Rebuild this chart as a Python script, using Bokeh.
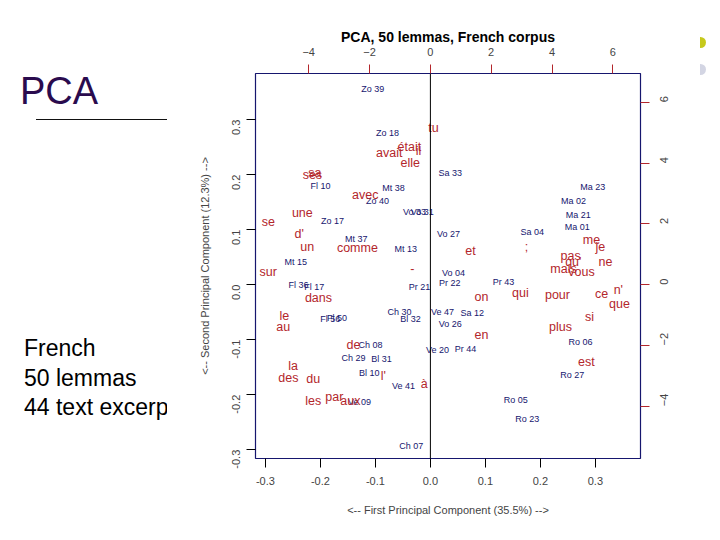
import math
from bokeh.plotting import figure
from bokeh.layouts import row
from bokeh.models import (Range1d, LinearAxis, FixedTicker, PrintfTickFormatter,
                          Span, ColumnDataSource, Div)
from bokeh.core.properties import value
from bokeh.embed import file_html
from bokeh.resources import INLINE

# ---- data: text excerpts (first/second principal component scores) ----
excerpts = ["Zo 39", "Zo 18", "Sa 33", "Fl 10", "Mt 38", "Zo 40", "Vo 33", "Vo 31",
            "Zo 17", "Vo 27", "Ma 23", "Ma 02", "Ma 21", "Ma 01", "Sa 04", "Mt 37",
            "Mt 13", "Mt 15", "Vo 04", "Pr 22", "Pr 21", "Pr 43", "Fl 36", "Fl 17",
            "Ch 30", "Bl 32", "Ve 47", "Sa 12", "Fl 56", "Fl 50", "Vo 26", "Ch 08",
            "Ch 29", "Bl 31", "Ve 20", "Pr 44", "Bl 10", "Ve 41", "Ve 09", "Ch 07",
            "Ro 06", "Ro 27", "Ro 05", "Ro 23"]
pc1 = [-0.105, -0.078, 0.036, -0.200, -0.067, -0.096, -0.029, -0.015,
       -0.178, 0.033, 0.295, 0.260, 0.269, 0.267, 0.185, -0.135,
       -0.045, -0.245, 0.042, 0.035, -0.020, 0.133, -0.240, -0.211,
       -0.056, -0.036, 0.022, 0.076, -0.182, -0.170, 0.036, -0.109,
       -0.140, -0.089, 0.013, 0.064, -0.111, -0.049, -0.129, -0.035,
       0.273, 0.258, 0.155, 0.176]
pc2 = [0.355, 0.275, 0.204, 0.180, 0.176, 0.153, 0.133, 0.133,
       0.115, 0.093, 0.178, 0.153, 0.127, 0.105, 0.095, 0.084,
       0.065, 0.042, 0.022, 0.004, -0.004, 0.005, 0.000, -0.005,
       -0.049, -0.062, -0.049, -0.051, -0.062, -0.060, -0.071, -0.109,
       -0.133, -0.135, -0.118, -0.116, -0.160, -0.185, -0.213, -0.293,
       -0.105, -0.164, -0.209, -0.245]

# ---- data: lemmas (loadings, on the top/right scales) ----
words = ["tu", "était", "avait", "il", "elle", "ses", "sa", "avec", "une", "se",
         "d'", "un", "comme", "sur", "-", "dans", "le", "au", "et", ";",
         "me", "je", "pas", "qu'", "ne", "mais", "vous", "on", "qui", "pour",
         "ce", "n'", "que", "si", "plus", "en", "est", "de", "la", "des",
         "du", "l'", "à", "les", "par", "aux"]
load1 = [0.10, -0.69, -1.35, -0.39, -0.66, -3.88, -3.80, -2.14, -4.21, -5.33,
         -4.31, -4.05, -2.40, -5.33, -0.59, -3.68, -4.80, -4.84, 1.32, 3.16,
         5.30, 5.59, 4.61, 4.70, 5.76, 4.38, 4.97, 1.68, 2.96, 4.18,
         5.63, 6.18, 6.22, 5.23, 4.28, 1.68, 5.13, -2.53, -4.51, -4.67,
         -3.85, -1.55, -0.20, -3.85, -3.16, -2.63]
load2 = [5.16, 4.54, 4.34, 4.41, 4.01, 3.62, 3.66, 2.96, 2.37, 2.07,
         1.68, 1.25, 1.22, 0.43, 0.53, -0.43, -1.02, -1.38, 1.12, 1.25,
         1.48, 1.25, 0.95, 0.76, 0.76, 0.53, 0.43, -0.39, -0.26, -0.33,
         -0.30, -0.16, -0.63, -1.05, -1.38, -1.64, -2.53, -1.97, -2.66, -3.06,
         -3.09, -2.99, -3.26, -3.82, -3.68, -3.82]

pc_ticks = [-0.3, -0.2, -0.1, 0.0, 0.1, 0.2, 0.3]
score_ticks = [-4, -2, 0, 2, 4, 6]

slide_title = "PCA"
slide_lines = ["French", "50 lemmas", "44 text excerpts"]

NAVY = "#16166e"
RED = "#b3262b"
FONT = "Liberation Sans"
H = 532

# ---- left part of the slide (the chart picture hides the end of the last line) ----
line_tops = [337, 367, 396]
html = ['<div style="position:relative;width:167px;height:%dpx;overflow:hidden;'
        'font-family:\'Liberation Sans\',Arial,sans-serif;">' % H]
html.append('<div style="position:absolute;left:20px;top:72px;font-size:38px;'
            'line-height:38px;color:#2a0b4e;white-space:nowrap;">%s</div>' % slide_title)
html.append('<div style="position:absolute;left:36px;top:119px;width:140px;'
            'height:1px;background:#111;"></div>')
for t, top_px in zip(slide_lines, line_tops):
    html.append('<div style="position:absolute;left:24px;top:%dpx;font-size:23px;'
                'line-height:23px;color:#000;white-space:nowrap;">%s</div>' % (top_px, t))
html.append('</div>')
left_div = Div(text="".join(html), width=167, height=H, margin=0)

# ---- right edge of the slide (bullets) ----
rhtml = ('<div style="position:relative;width:15px;height:%dpx;overflow:hidden;">'
         '<div style="position:absolute;left:3px;top:37px;width:6px;height:11px;'
         'border-radius:0 6px 6px 0;background:#c6c91c;"></div>'
         '<div style="position:absolute;left:3px;top:64px;width:6px;height:11px;'
         'border-radius:0 6px 6px 0;background:#d3d5e3;"></div></div>') % H
right_div = Div(text=rhtml, width=15, height=H, margin=0)

# ---- the biplot ----
p = figure(width=530, height=H,
           x_range=Range1d(-0.318, 0.382), y_range=Range1d(-0.316, 0.384),
           output_backend="svg", toolbar_location=None,
           title="PCA, 50 lemmas, French corpus",
           min_border_left=88, min_border_right=57,
           min_border_top=73, min_border_bottom=74, margin=0)
p.background_fill_color = "white"
p.border_fill_color = "white"
p.outline_line_color = NAVY
p.outline_line_width = 1.2
p.xgrid.visible = False
p.ygrid.visible = False

p.title.align = "center"
p.title.text_font = FONT
p.title.text_font_size = "14px"
p.title.text_font_style = "bold"
p.title.text_color = "black"
p.title.standoff = 0

p.extra_x_ranges = {"sx": Range1d(-5.75, 6.91)}
p.extra_y_ranges = {"sy": Range1d(-5.72, 6.95)}


def style_axis(ax, tick_color):
    ax.axis_line_color = None
    ax.major_tick_line_color = tick_color
    ax.major_tick_in = 0
    ax.major_tick_out = 9
    ax.minor_tick_line_color = None
    ax.major_label_text_font = FONT
    ax.major_label_text_font_size = "11px"
    ax.major_label_text_color = "#444444"
    ax.axis_label_text_font = FONT
    ax.axis_label_text_font_size = "11px"
    ax.axis_label_text_font_style = "normal"
    ax.axis_label_text_color = "#444444"


xa = p.xaxis[0]
xa.ticker = FixedTicker(ticks=pc_ticks)
xa.formatter = PrintfTickFormatter(format="%.1f")
xa.axis_label = "<-- First Principal Component (35.5%) -->"
style_axis(xa, "black")
xa.major_label_standoff = 9
xa.axis_label_standoff = 16

ya = p.yaxis[0]
ya.ticker = FixedTicker(ticks=pc_ticks)
ya.formatter = PrintfTickFormatter(format="%.1f")
ya.axis_label = "<-- Second Principal Component (12.3%) -->"
style_axis(ya, "black")
ya.major_label_orientation = math.pi / 2
ya.major_label_standoff = 10
ya.axis_label_standoff = 15

top = LinearAxis(x_range_name="sx", ticker=FixedTicker(ticks=score_ticks))
style_axis(top, RED)
top.major_label_standoff = 9
p.add_layout(top, "above")

right = LinearAxis(y_range_name="sy", ticker=FixedTicker(ticks=score_ticks))
style_axis(right, RED)
right.major_label_orientation = math.pi / 2
right.major_label_standoff = 15
p.add_layout(right, "right")

p.add_layout(Span(location=0, dimension="height", line_color="black", line_width=1))

src_t = ColumnDataSource(dict(x=pc1, y=pc2, t=excerpts))
p.text(x="x", y="y", text="t", source=src_t, text_font=value(FONT),
       text_font_size="9px", text_color=NAVY, text_align="center",
       text_baseline="middle")

src_w = ColumnDataSource(dict(x=load1, y=load2, t=words))
p.text(x="x", y="y", text="t", source=src_w, text_font=value(FONT),
       text_font_size="12.5px", text_color=RED, text_align="center",
       text_baseline="middle", x_range_name="sx", y_range_name="sy")

layout = row(left_div, p, right_div, spacing=0)

open("out.html", "w").write(file_html(layout, INLINE))
